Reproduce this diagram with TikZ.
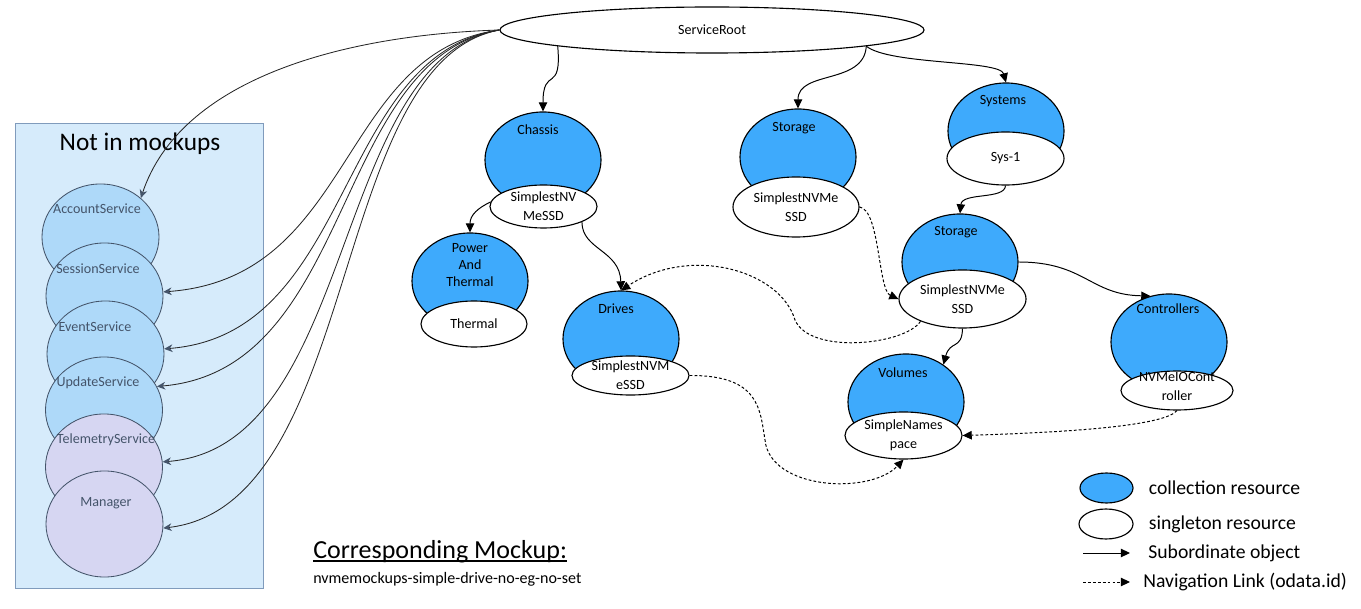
\documentclass[tikz,border=0pt]{standalone}
\usepackage{fontspec}
\setmainfont{Carlito}
\usetikzlibrary{positioning,shapes.geometric,arrows.meta}
\definecolor{collblue}{RGB}{62,170,252}
\definecolor{svcblue}{RGB}{174,217,249}
\definecolor{svclilac}{RGB}{214,214,242}
\definecolor{panelfill}{RGB}{214,235,251}
\definecolor{panelline}{RGB}{128,155,188}
\definecolor{slate}{RGB}{68,84,106}
\tikzset{coll/.style={ellipse,draw,line width=0.8pt,fill=collblue,minimum width=2.9cm,minimum height=2.4cm,inner sep=0pt},
         sngl/.style={ellipse,draw,line width=0.8pt,fill=white,inner sep=0pt},
         svc/.style={ellipse,draw=slate,line width=0.6pt,fill=svcblue,minimum width=2.925cm,minimum height=2.65cm,inner sep=0pt},
         lbl/.style={font=\fontsize{10}{13.5}\selectfont,align=center,inner sep=0pt},
         svclbl/.style={lbl,text=slate},
         keytxt/.style={font=\fontsize{14}{16}\selectfont,inner sep=0pt,anchor=west}
}
\tikzstyle{sub} = [line width=0.7pt,-{Triangle[length=6.5pt,width=6pt]}]
\tikzstyle{nav} = [line width=0.7pt,dash pattern=on 2pt off 1.5pt,-{Triangle[length=6.5pt,width=6pt]}]
\tikzstyle{svcarrow} = [line width=0.6pt,black!85,-{Stealth[length=6pt,width=5.5pt,color=slate]}]
\newcommand{\mockul}[1]{\setbox0\hbox{#1}\rlap{\rule[-2.8pt]{\wd0}{1.4pt}}\box0}

\begin{document}
\begin{tikzpicture}[x=0.025cm,y=-0.025cm]
\useasboundingbox (0,0) rectangle (1361,609);

% not in mockups
\node[draw=panelline,fill=panelfill,minimum width=6.2cm,minimum height=11.625cm,inner sep=0pt] (panel) at (139,355.5) {};
\node[font=\fontsize{18}{20}\selectfont,inner sep=0pt] (panel-t) at (140,144) {Not in mockups};
\node[svc] (acct) at (100.5,237) {};
\node[svclbl] (acct-t) at (97,209) {AccountService};
\node[svc] (sess) at (104.5,296) {};
\node[svclbl] (sess-t) at (98,269) {SessionService};
\node[svc] (evt) at (105.5,354) {};
\node[svclbl] (evt-t) at (95,327) {EventService};
\node[svc] (upd) at (104,410) {};
\node[svclbl] (upd-t) at (98,383) {UpdateService};
\node[svc,fill=svclilac] (telem) at (104,467) {};
\node[svclbl] (telem-t) at (106,440) {TelemetryService};
\node[svc,fill=svclilac] (mgr) at (104.5,524) {};
\node[svclbl] (mgr-t) at (106,503) {Manager};

% resources
\node[ellipse,draw,line width=0.8pt,fill=white,minimum width=10.6cm,minimum height=1.15cm,inner sep=0pt,font=\fontsize{10}{12}\selectfont] (root) at (712,30) {ServiceRoot};

\node[coll] (chassis) at (543,160) {};
\node[lbl] (chassis-t) at (538,130) {Chassis};
\node[sngl,minimum width=2.675cm,minimum height=1.075cm] (chassis-s) at (543.5,206.5) {};
\node[lbl] (chassis-st) at (chassis-s) {SimplestNV\\MeSSD};

\node[coll] (storage) at (798,157) {};
\node[lbl] (storage-t) at (794,128) {Storage};
\node[sngl,minimum width=3.15cm,minimum height=1.5cm] (storage-s) at (796,207) {};
\node[lbl] (storage-st) at (storage-s) {SimplestNVMe\\SSD};

\node[coll] (systems) at (1006,131) {};
\node[lbl] (systems-t) at (1003,101) {Systems};
\node[sngl,minimum width=2.925cm,minimum height=1.325cm] (sys1) at (1005.5,158.5) {};
\node[lbl] (sys1-t) at (sys1) {Sys-1};

\node[coll] (power) at (470,281) {};
\node[lbl,font=\fontsize{10}{12.4}\selectfont] (power-t) at (470,265) {Power\\And\\Thermal};
\node[sngl,minimum width=2.65cm,minimum height=1.15cm] (thermal) at (474,324) {};
\node[lbl] (thermal-t) at (thermal) {Thermal};

\node[coll] (drives) at (621,339) {};
\node[lbl] (drives-t) at (616,309) {Drives};
\node[sngl,minimum width=2.925cm,minimum height=0.975cm] (drives-s) at (630.5,375.5) {};
\node[lbl] (drives-st) at (drives-s) {SimplestNVM\\eSSD};

\node[coll] (storage2) at (960,262) {};
\node[lbl] (storage2-t) at (956,232) {Storage};
\node[sngl,minimum width=3.175cm,minimum height=1.45cm] (storage2-s) at (962.5,299) {};
\node[lbl] (storage2-st) at (storage2-s) {SimplestNVMe\\SSD};

\node[coll] (volumes) at (906,402) {};
\node[lbl] (volumes-t) at (903,373) {Volumes};
\node[sngl,minimum width=2.925cm,minimum height=1.175cm] (volumes-s) at (903.5,435.5) {};
\node[lbl] (volumes-st) at (volumes-s) {SimpleNames\\pace};

\node[coll] (controllers) at (1169,342) {};
\node[lbl] (controllers-t) at (1168,309) {Controllers};
\node[sngl,minimum width=2.8cm,minimum height=0.975cm] (controllers-s) at (1177,390.5) {};
\node[lbl] (controllers-st) at (1177,386.5) {NVMeIOCont\\roller};

% root to services
\draw[svcarrow] (root.west) .. controls (340,35) and (180,80) .. (acct.44);
\draw[svcarrow] (root.west) .. controls (338,52) and (355,278) .. (sess.4);
\draw[svcarrow] (root.west) .. controls (335,55) and (355,334) .. (evt.5);
\draw[svcarrow] (root.west) .. controls (332,58) and (355,370) .. (upd.24);
\draw[svcarrow] (root.west) .. controls (330,60) and (358,447) .. (telem.5);
\draw[svcarrow] (root.west) .. controls (328,62) and (362,505) .. (mgr.-4);

% subordinate objects
\draw[sub] (root.186) .. controls (562,95) and (543,65) .. (chassis.north);
\draw[sub] (root.-6) .. controls (864,85) and (798,70) .. (storage.north);
\draw[sub] (root.-6) .. controls (890,65) and (1000,60) .. (systems.north);
\draw[sub] (chassis-s.175) .. controls (478,208) and (470,215) .. (power.north);
\draw[sub] (chassis-s.-22) .. controls (582,250) and (620,250) .. (drives.north);
\draw[sub] (sys1.south) .. controls (1005,200) and (962,192) .. (storage2.north);
\draw[sub] (storage2.east) .. controls (1085,262) and (1090,295) .. (controllers.112);
\draw[sub] (storage2-s.south) .. controls (962,350) and (950,340) .. (volumes.45);

% navigation links
\draw[nav] (storage-s.east) .. controls (880,210) and (878,290) .. (storage2-s.west);
\draw[nav] (storage2-s.208) .. controls (905,345) and (810,355) .. (795,320) .. controls (780,270) and (690,245) .. (drives.north);
\draw[nav] (drives-s.east) .. controls (760,375) and (760,410) .. (765,440) .. controls (770,490) and (870,495) .. (volumes-s.south);
\draw[nav] (controllers-s.south) .. controls (1165,425) and (1080,432) .. (volumes-s.east);

% legend
\node[coll,minimum width=1.325cm,minimum height=0.75cm] (key-coll) at (1106.5,488) {};
\node[keytxt,right=0.375cm of key-coll] (key-coll-t) {collection resource};
\node[sngl,minimum width=1.35cm,minimum height=0.75cm] (key-sngl) at (1106,524) {};
\node[keytxt,right=0.375cm of key-sngl] (key-sngl-t) {singleton resource};
\coordinate (key-sub-a) at (1083,553);
\coordinate (key-sub-b) at (1130,553);
\node[keytxt] (key-sub-t) at (1148,553) {Subordinate object};
\coordinate (key-nav-a) at (1083,582);
\coordinate (key-nav-b) at (1130,582);
\node[keytxt] (key-nav-t) at (1143,582) {Navigation Link (odata.id)};
\draw[sub] (key-sub-a) -- (key-sub-b);
\draw[nav] (key-nav-a) -- (key-nav-b);

% mockup name
\node[font=\fontsize{18.5}{20}\selectfont,inner sep=0pt,anchor=base west] (mock-t) at (313,558) {\mockul{Corresponding Mockup:}};
\node[font=\fontsize{11.4}{13}\selectfont,inner sep=0pt,anchor=base west] (mock-n) at (313,583) {nvmemockups-simple-drive-no-eg-no-set};

\end{tikzpicture}
\end{document}
